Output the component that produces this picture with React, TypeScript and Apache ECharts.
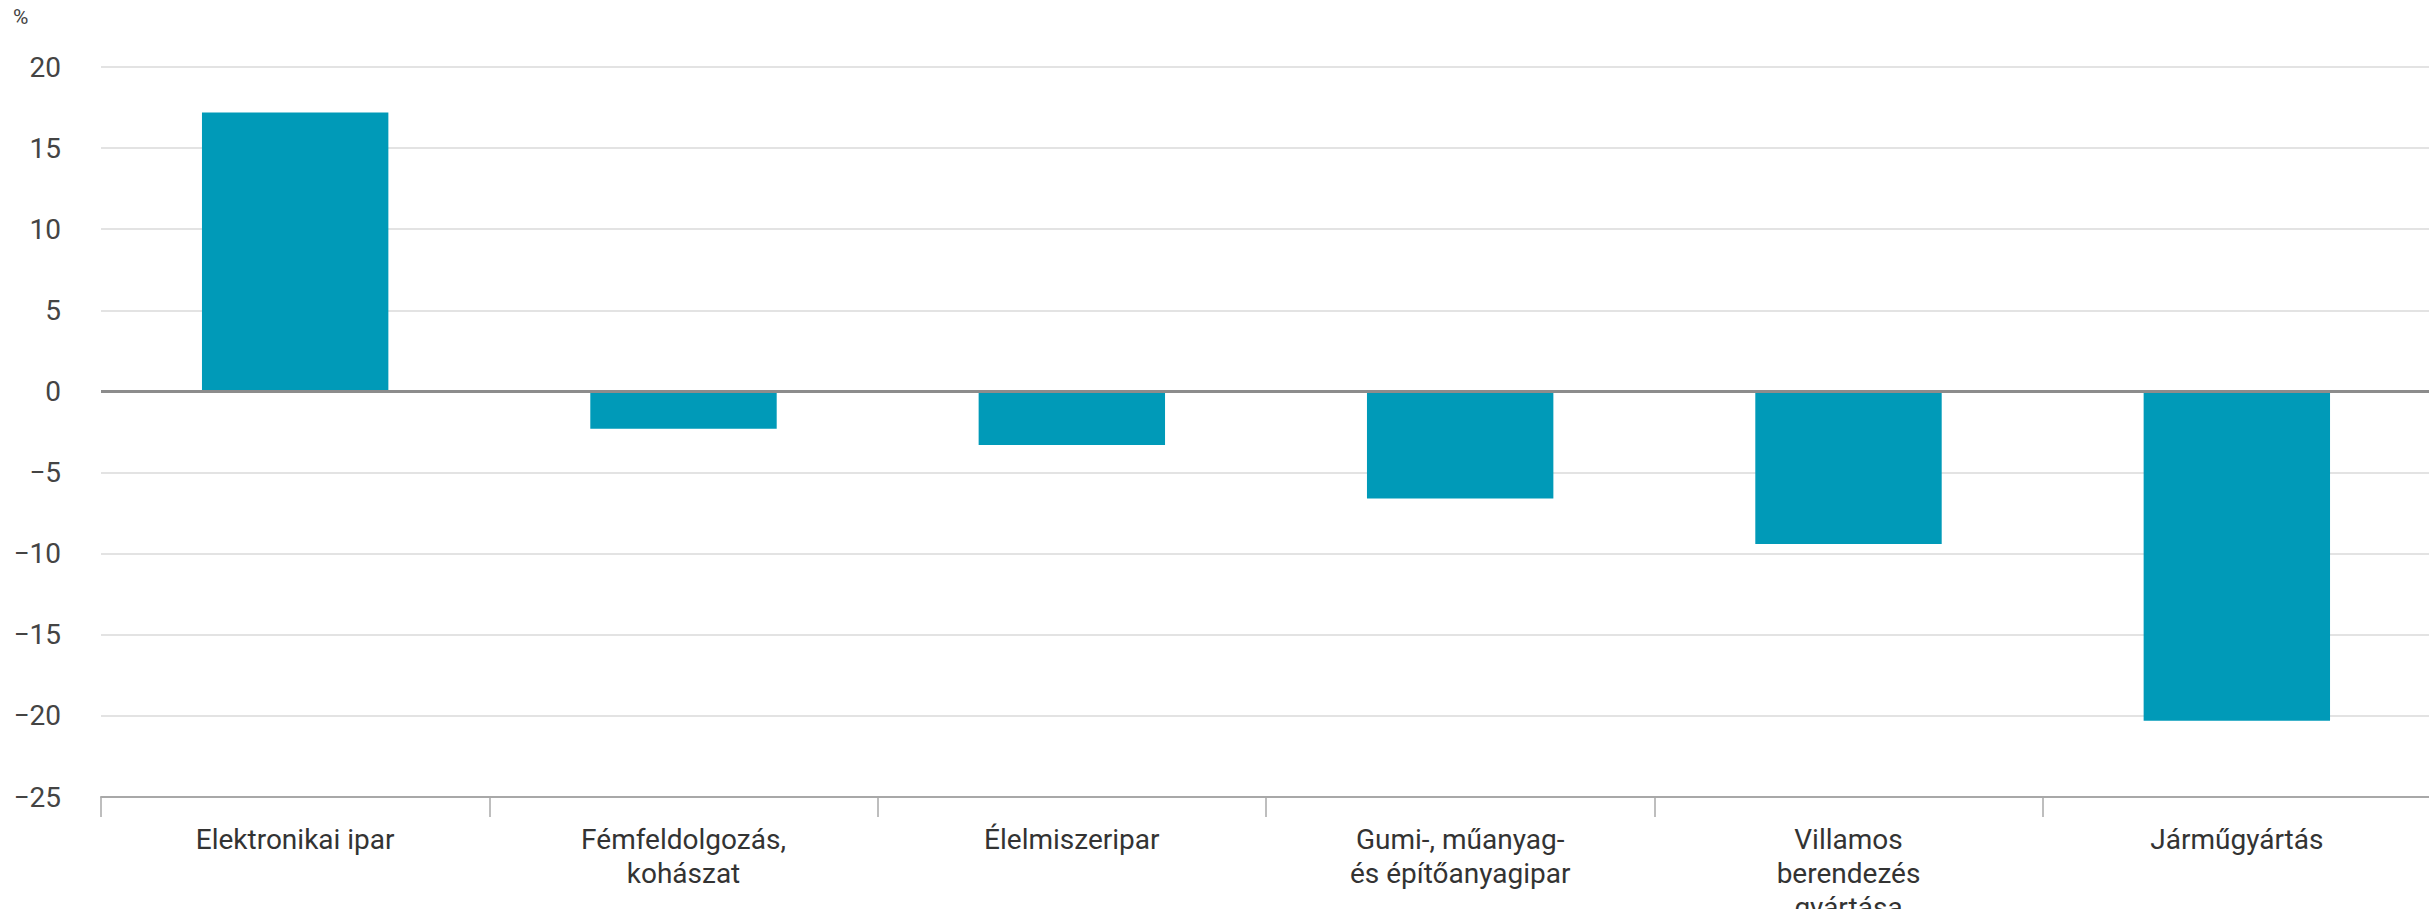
import React, { useEffect, useRef } from "react";
import * as echarts from "echarts";

const categories = [
  "Elektronikai ipar",
  "Fémfeldolgozás,\nkohászat",
  "Élelmiszeripar",
  "Gumi-, műanyag-\nés építőanyagipar",
  "Villamos\nberendezés\ngyártása",
  "Járműgyártás",
];
const values = [17.2, -2.3, -3.3, -6.6, -9.4, -20.3];
const unitLabel = "%";

export default function App() {
  const ref = useRef<HTMLDivElement>(null);
  useEffect(() => {
    if (!ref.current) return;
    const chart = echarts.init(ref.current, null, { renderer: "svg", width: 2429, height: 909 });
    chart.setOption({
      animation: false,
      backgroundColor: "#ffffff",
      textStyle: { fontFamily: "Roboto" },
      grid: {
        left: 101,
        right: -2,
        top: 67,
        bottom: 112,
        containLabel: false,
        outerBoundsMode: "none",
      },
      graphic: [
        {
          type: "text",
          left: 13,
          top: 6,
          style: { text: unitLabel, fontSize: 21, fill: "#444", fontFamily: "Roboto" },
        },
      ],
      xAxis: {
        type: "category",
        data: categories,
        axisLine: { show: true, onZero: false, lineStyle: { color: "#a8a8a8", width: 2 } },
        axisTick: { show: true, length: 20, alignWithLabel: false, lineStyle: { color: "#a8a8a8", width: 1.5 } },
        axisLabel: {
          color: "#333",
          fontSize: 28,
          lineHeight: 34,
          margin: 25,
          interval: 0,
          fontFamily: "Roboto",
        },
        splitLine: { show: false },
      },
      yAxis: {
        type: "value",
        min: -25,
        max: 20,
        interval: 5,
        axisLine: { show: false },
        axisTick: { show: false },
        axisLabel: {
          color: "#444",
          fontSize: 28,
          margin: 40,
          fontFamily: "Roboto",
          formatter: (v: number) => (v < 0 ? "\u2212" + Math.abs(v) : String(v)),
        },
        splitLine: { show: true, lineStyle: { color: "#e3e3e3", width: 2 } },
      },
      series: [
        {
          type: "bar",
          data: values,
          barWidth: "48%",
          itemStyle: { color: "#009ab8" },
          markLine: {
            silent: true,
            symbol: "none",
            label: { show: false },
            lineStyle: { color: "#8c8c8c", width: 3, type: "solid" },
            data: [{ yAxis: 0 }],
          },
        },
      ],
    });
    return () => chart.dispose();
  }, []);
  return (
    <div
      ref={ref}
      style={{ position: "absolute", left: 0, top: 0, width: 2429, height: 909, overflow: "hidden" }}
    />
  );
}
